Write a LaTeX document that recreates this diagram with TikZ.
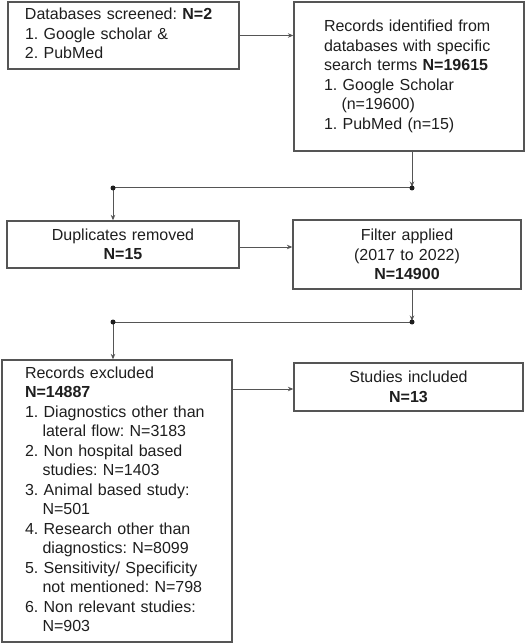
\documentclass[tikz,border=0pt]{standalone}
\usepackage{fontspec}
\setmainfont{Liberation Sans}
\usetikzlibrary{arrows.meta}
\definecolor{linegray}{HTML}{555555}
\definecolor{txt}{HTML}{1E1E1E}
\newcommand{\ind}{\hspace*{17.5pt}}
\tikzset{
  box/.style={draw=linegray, line width=1.3pt, rectangle, inner sep=0pt,
    text=txt, font=\fontsize{16}{19.5}\selectfont\frenchspacing},
  lbox/.style={box, align=left},
  cbox/.style={box, align=center},
  conn/.style={draw=linegray, line width=1pt},
  arr/.style={conn, -{Stealth[length=5.5pt,width=4.5pt]}},
  jdot/.style={circle, fill=txt, inner sep=0pt, minimum size=5pt}
}
\begin{document}
\begin{tikzpicture}[x=1pt,y=-1pt]
\useasboundingbox (0,0) rectangle (525,644);

\node[lbox, text width=231pt, minimum height=67pt] (db) at (123.5,35.5)
  {\hspace*{17pt}\begin{tabular}{@{}l@{}}
   Databases screened: \textbf{N=2}\\
   1. Google scholar \&\\
   2. PubMed
   \end{tabular}};

\node[lbox, text width=230pt, minimum height=149pt] (rec) at (409,76.5)
  {\hspace*{30pt}\begin{tabular}{@{}l@{}}
   Records identified from\\
   databases with specific\\
   search terms \textbf{N=19615}\\
   1. Google Scholar\\
   \ind(n=19600)\\
   1. PubMed (n=15)
   \end{tabular}};

\node[cbox, text width=232pt, minimum height=47pt] (dup) at (123,244.5)
  {Duplicates removed\\ \textbf{N=15}};

\node[cbox, text width=228pt, minimum height=69pt] (filt) at (407,254.5)
  {Filter applied\\ (2017 to 2022)\\ \textbf{N=14900}};

\node[lbox, text width=230pt, minimum height=282pt] (excl) at (117,501)
  {\hspace*{23pt}\begin{tabular}{@{}l@{}}
   Records excluded\\
   \textbf{N=14887}\\
   1. Diagnostics other than\\
   \ind lateral flow: N=3183\\
   2. Non hospital based\\
   \ind studies: N=1403\\
   3. Animal based study:\\
   \ind N=501\\
   4. Research other than\\
   \ind diagnostics: N=8099\\
   5. Sensitivity/ Specificity\\
   \ind not mentioned: N=798\\
   6. Non relevant studies:\\
   \ind N=903
   \end{tabular}\\[7pt]};

\node[cbox, text width=229pt, minimum height=48pt] (inc) at (408.5,387)
  {Studies included\\ \textbf{N=13}};

\coordinate (j1) at (412,188);
\coordinate (j2) at (113,188);
\coordinate (j3) at (412,322);
\coordinate (j4) at (113,322);

\draw[arr] (db.east) -- (db.east -| rec.west);

\draw[arr, shorten >=1pt] (rec.south -| j1) -- (j1);
\draw[conn] (j1) -- (j2);
\draw[arr] (j2) -- (dup.north -| j2);
\node[jdot] (d1) at (j1) {};
\node[jdot] (d2) at (j2) {};

\draw[arr] ([yshift=-2.5pt]dup.east) -- ([yshift=-2.5pt]dup.east -| filt.west);

\draw[arr, shorten >=1pt] (filt.south -| j3) -- (j3);
\draw[conn] (j3) -- (j4);
\draw[arr] (j4) -- (excl.north -| j4);
\node[jdot] (d3) at (j3) {};
\node[jdot] (d4) at (j4) {};

\draw[arr] ([yshift=-2pt]inc.west -| excl.east) -- ([yshift=-2pt]inc.west);
\end{tikzpicture}
\end{document}
